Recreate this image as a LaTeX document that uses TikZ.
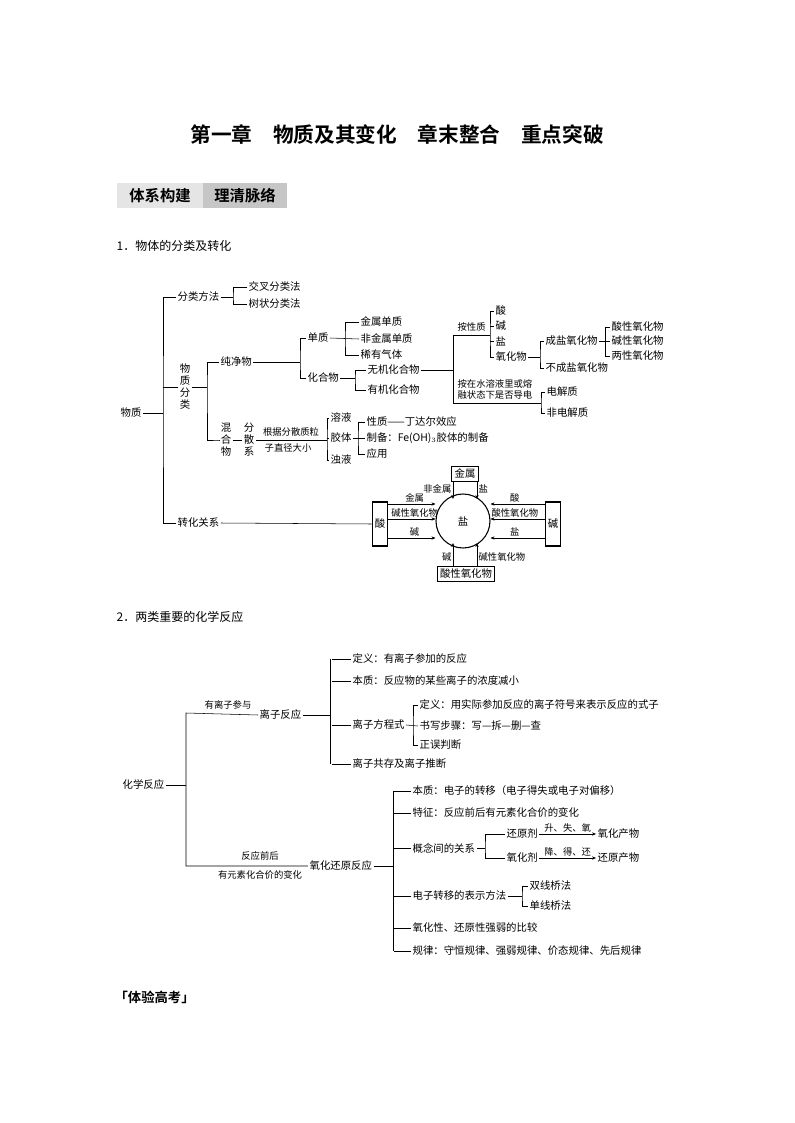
\documentclass[tikz,border=0pt]{standalone}
\usepackage{fontspec}
\setmainfont{Noto Sans CJK SC}
\newfontfamily\cjkb{Noto Sans CJK SC Bold}
\usetikzlibrary{calc,arrows.meta}

\begin{document}
\begin{tikzpicture}[x=0.75pt,y=-0.75pt,
    lbl/.style={anchor=west,inner sep=1pt,font=\fontsize{7.8}{8}\selectfont},
    vlbl/.style={inner sep=1pt,align=center,font=\fontsize{7.8}{9}\selectfont},
    bx/.style={draw,thick,inner sep=2pt,font=\fontsize{7.8}{8}\selectfont},
    sm/.style={inner sep=1pt,font=\fontsize{7}{8}\selectfont},
    ar/.style={-{Stealth[length=3pt,width=2.5pt]}}]
    \useasboundingbox (0,0) rectangle (794,1123);

    \node[font=\cjkb\fontsize{15.5}{16}\selectfont] (title) at (397,135) {第一章\quad 物质及其变化\quad 章末整合\quad 重点突破};
    \fill[gray!20] (117,183) rectangle (203,208);
    \fill[gray!45] (203,183) rectangle (287,208);
    \node[font=\cjkb\fontsize{11.5}{12}\selectfont] (hd1) at (160,196) {体系构建};
    \node[font=\cjkb\fontsize{11.5}{12}\selectfont] (hd2) at (245,196) {理清脉络};
    \node[lbl,font=\fontsize{9}{10}\selectfont] (sec1) at (115,246) {1．物体的分类及转化};

    % part 1
    \node[lbl] (wz) at (119,413) {物质};
    \node[lbl] (flff) at (176,297) {分类方法};
    \node[vlbl] (wzfl) at (185,387) {物\\质\\分\\类};
    \node[lbl] (zhgx) at (176,523) {转化关系};
    \draw (wz.east) -- (163,413);
    \draw (flff.west) -| (163,413) |- (zhgx.west);
    \draw (wzfl.west) -- (163,387);

    \node[lbl] (jc) at (247,287) {交叉分类法};
    \node[lbl] (sz) at (247,304) {树状分类法};
    \draw (flff.east) -- (233,297);
    \draw (jc.west) -| (233,297) |- (sz.west);

    \node[lbl] (cjw) at (219,362) {纯净物};
    \node[vlbl] (hhw) at (226,440) {混\\合\\物};
    \draw (wzfl.east) -- (207,387);
    \draw (cjw.west) -| (207,387) |- (219,440) -- (hhw.west);

    \node[vlbl] (fsx) at (249,440) {分\\散\\系};
    \draw (hhw.east) -- (fsx.west);
    \node[sm] (gj1) at (291,432) {根据分散质粒};
    \node[sm] (gj2) at (288,448) {子直径大小};
    \node[lbl] (ry) at (329,418) {溶液};
    \node[lbl] (jt) at (329,438) {胶体};
    \node[lbl] (zy) at (329,460) {浊液};
    \draw (fsx.east) -- (327,440);
    \draw (ry.west) -| (327,440) |- (zy.west);
    \draw (327,438) -- (jt.west);

    \node[lbl] (xz) at (365,422) {性质——丁达尔效应};
    \node[lbl] (zb) at (365,438) {制备：Fe(OH)$_3$胶体的制备};
    \node[lbl] (yy) at (365,454) {应用};
    \draw (jt.east) -- (zb.west);
    \draw (xz.west) -| (358,438) |- (yy.west);

    \node[lbl] (dz) at (306,338) {单质};
    \node[lbl] (hhwu) at (306,378) {化合物};
    \draw (cjw.east) -- (300,362);
    \draw (dz.west) -| (300,362) |- (hhwu.west);

    \node[lbl] (jsdz) at (359,322) {金属单质};
    \node[lbl] (fjs) at (359,339) {非金属单质};
    \node[lbl] (xyqt) at (359,355) {稀有气体};
    \draw (dz.east) -- (fjs.west);
    \draw (jsdz.west) -| (345,339) |- (xyqt.west);

    \node[lbl] (wj) at (366,370) {无机化合物};
    \node[lbl] (yj) at (366,390) {有机化合物};
    \draw (hhwu.east) -- (355,378);
    \draw (wj.west) -| (355,378) |- (yj.west);

    \node[sm,anchor=south west] (axz) at (456,333) {按性质};
    \node[sm,anchor=south west,align=left] (asr) at (456,401) {按在水溶液里或熔\\融状态下是否导电};
    \draw (wj.east) -- (453,370);
    \draw (490,335) -- (453,335) -- (453,403) -- (541,403);

    \node[lbl] (suan) at (494,311) {酸};
    \node[lbl] (jian) at (494,326) {碱};
    \node[lbl] (yan) at (494,341) {盐};
    \node[lbl] (yhw) at (494,357) {氧化物};
    \draw (suan.west) -| (490,335) |- (yhw.west);
    \draw (490,326) -- (jian.west);
    \draw (490,341) -- (yan.west);

    \node[lbl] (cy) at (544,341) {成盐氧化物};
    \node[lbl] (bcy) at (544,368) {不成盐氧化物};
    \draw (yhw.east) -- (540,357);
    \draw (cy.west) -| (540,357) |- (bcy.west);

    \node[lbl] (sx) at (610,327) {酸性氧化物};
    \node[lbl] (jx) at (610,341) {碱性氧化物};
    \node[lbl] (lx) at (610,356) {两性氧化物};
    \draw (cy.east) -- (jx.west);
    \draw (sx.west) -| (605,341) |- (lx.west);

    \node[lbl] (djz) at (545,392) {电解质};
    \node[lbl] (fdj) at (545,413) {非电解质};
    \draw (djz.west) -| (541,403) |- (fdj.west);

    % conversion
    \node[draw,circle,thick,minimum size=54pt*0.75,inner sep=0pt,font=\fontsize{7.8}{8}\selectfont] (yc) at (463,521) {盐};
    \node[bx] (js) at (465,474) {金属};
    \node[bx,align=center,minimum height=33pt] (sb) at (380,524) {酸};
    \node[bx,align=center,minimum height=33pt] (jb) at (553,524) {碱};
    \node[bx] (sxb) at (466,574) {酸性氧化物};
    \draw (zhgx.east) -- (sb.west);
    \foreach \y/\t in {504/金属,519/碱性氧化物,538/碱}{
        \draw[ar] (sb.east |- 0,\y) -- (yc.west |- 0,\y) node[sm,above,midway,xshift=2pt] {\t};}
    \foreach \y/\t in {504/酸,519/酸性氧化物,538/盐}{
        \draw[ar] (jb.west |- 0,\y) -- (yc.east |- 0,\y) node[sm,above,midway,xshift=-2pt] {\t};}
    \draw[ar] (js.south -| 453,0) -- (453,499) node[sm,left,pos=0.4] {非金属};
    \draw[ar] (js.south -| 477,0) -- (477,499) node[sm,right,pos=0.4] {盐};
    \draw[ar] (sxb.north -| 453,0) -- (453,543) node[sm,left,pos=0.4] {碱};
    \draw[ar] (sxb.north -| 477,0) -- (477,543) node[sm,right,pos=0.4] {碱性氧化物};

    % part 2
    \node[lbl,font=\fontsize{9}{10}\selectfont] (sec2) at (115,617) {2．两类重要的化学反应};
    \node[lbl] (hxfy) at (121,785) {化学反应};
    \node[lbl] (lzfy) at (258,715) {离子反应};
    \node[lbl] (yhhy) at (308,866) {氧化还原反应};
    \draw (hxfy.east) -- (186,785);
    \draw (lzfy.west) -- (186,713) -- (186,866) -- (yhhy.west);
    \node[sm,anchor=south] (ylz) at (228,711) {有离子参与};
    \node[sm,anchor=south] (fyqh) at (260,862) {反应前后};
    \node[sm,anchor=north] (yys) at (260,869) {有元素化合价的变化};

    \node[lbl] (dy1) at (351,659) {定义：有离子参加的反应};
    \node[lbl] (bz1) at (351,681) {本质：反应物的某些离子的浓度减小};
    \node[lbl] (lzfc) at (351,725) {离子方程式};
    \node[lbl] (lzgc) at (351,764) {离子共存及离子推断};
    \draw (lzfy.east) -- (330,715);
    \foreach \n in {dy1,bz1,lzfc,lzgc} \draw (\n.west) -- ++(-19,0);
    \draw (330,659) -- (330,764);

    \node[lbl] (dy2) at (418,705) {定义：用实际参加反应的离子符号来表示反应的式子};
    \node[lbl] (sxbz) at (418,726) {书写步骤：写—拆—删—查};
    \node[lbl] (zwpd) at (418,745) {正误判断};
    \draw (lzfc.east) -- (sxbz.west);
    \draw (dy2.west) -| (413,726) |- (zwpd.west);

    \node[lbl] (bz2) at (411,791) {本质：电子的转移（电子得失或电子对偏移）};
    \node[lbl] (tz) at (411,813) {特征：反应前后有元素化合价的变化};
    \node[lbl] (gn) at (411,848) {概念间的关系};
    \node[lbl] (dzzy) at (411,896) {电子转移的表示方法};
    \node[lbl] (yhx) at (411,928) {氧化性、还原性强弱的比较};
    \node[lbl] (gl) at (411,951) {规律：守恒规律、强弱规律、价态规律、先后规律};
    \draw (yhhy.east) -- (393,866);
    \foreach \n in {bz2,tz,gn,dzzy,yhx,gl} \draw (\n.west) -- ++(-17,0);
    \draw (393,791) -- (393,951);

    \node[lbl] (hyj) at (505,834) {还原剂};
    \node[lbl] (yhj) at (505,858) {氧化剂};
    \node[lbl] (yhcw) at (596,834) {氧化产物};
    \node[lbl] (hycw) at (596,858) {还原产物};
    \draw (gn.east) -- (485,848);
    \draw (hyj.west) -| (485,848) |- (yhj.west);
    \draw[ar] (hyj.east) -- (yhcw.west) node[sm,above,midway] {升、失、氧};
    \draw[ar] (yhj.east) -- (hycw.west) node[sm,above,midway] {降、得、还};

    \node[lbl] (sxq) at (528,886) {双线桥法};
    \node[lbl] (dxq) at (528,906) {单线桥法};
    \draw (dzzy.east) -- (522,896);
    \draw (sxq.west) -| (522,896) |- (dxq.west);

    \node[lbl,font=\cjkb\fontsize{10}{11}\selectfont] (tygk) at (113,997) {「体验高考」};
\end{tikzpicture}
\end{document}
